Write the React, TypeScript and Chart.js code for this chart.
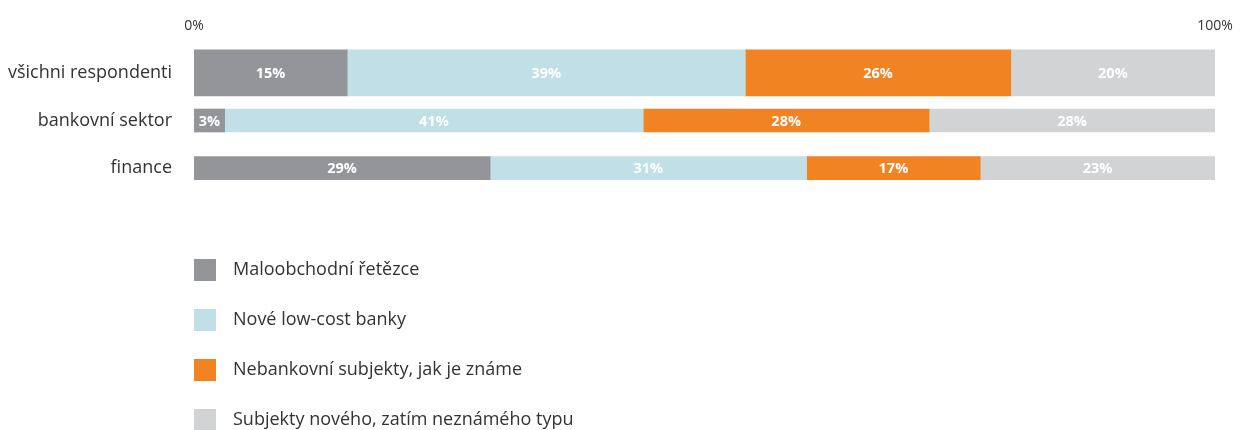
import React, { useEffect, useRef } from "react";
import { Chart, registerables } from "chart.js";

Chart.register(...registerables);

const categories = ["všichni respondenti", "bankovní sektor", "finance"];
const seriesNames = [
  "Maloobchodní řetězce",
  "Nové low-cost banky",
  "Nebankovní subjekty, jak je známe",
  "Subjekty nového, zatím neznámého typu",
];
const maloobchodni = [15, 3, 29];
const lowCost = [39, 41, 31];
const nebankovni = [26, 28, 17];
const noveSubjekty = [20, 28, 23];
const seriesColors = ["#939598", "#c0dfe7", "#f28322", "#d1d3d4"];
const xTickLabels = ["0%", "100%"];

const FONT = "'Open Sans', sans-serif";

const valueLabels = {
  id: "valueLabels",
  afterDatasetsDraw(chart: any) {
    const ctx = chart.ctx;
    ctx.save();
    ctx.fillStyle = "#ffffff";
    ctx.font = `bold 14.5px ${FONT}`;
    ctx.textAlign = "center";
    ctx.textBaseline = "middle";
    chart.data.datasets.forEach((ds: any, di: number) => {
      const meta = chart.getDatasetMeta(di);
      meta.data.forEach((el: any, i: number) => {
        const v = ds.data[i];
        if (v === null || v === undefined) return;
        const c = el.getCenterPoint();
        ctx.fillText(v + "%", c.x, c.y + 1);
      });
    });
    ctx.restore();
  },
};

const customLegend = {
  id: "customLegend",
  afterDraw(chart: any) {
    const ctx = chart.ctx;
    const left = chart.chartArea.left;
    ctx.save();
    ctx.font = `18px ${FONT}`;
    ctx.textAlign = "left";
    ctx.textBaseline = "middle";
    seriesNames.forEach((name, i) => {
      const cy = 270 + i * 50;
      ctx.fillStyle = seriesColors[i];
      ctx.fillRect(left, cy - 11, 22, 22);
      ctx.fillStyle = "#333333";
      ctx.fillText(name, left + 39, cy);
    });
    ctx.restore();
  },
};

export default function App() {
  const ref = useRef<HTMLCanvasElement>(null);
  useEffect(() => {
    const series = [maloobchodni, lowCost, nebankovni, noveSubjekty];
    const datasets: any[] = [];
    series.forEach((vals, s) => {
      datasets.push({
        label: seriesNames[s],
        data: vals.map((v, i) => (i === 0 ? v : null)),
        backgroundColor: seriesColors[s],
        barThickness: 46,
      });
    });
    series.forEach((vals, s) => {
      datasets.push({
        label: seriesNames[s] + " ",
        data: vals.map((v, i) => (i === 0 ? null : v)),
        backgroundColor: seriesColors[s],
        barThickness: 23,
      });
    });
    const chart = new Chart(ref.current!, {
      type: "bar",
      data: { labels: categories, datasets },
      options: {
        indexAxis: "y",
        animation: false,
        responsive: false,
        maintainAspectRatio: false,
        layout: { padding: { left: 0, right: 26, top: 0, bottom: 238 } },
        plugins: { legend: { display: false }, tooltip: { enabled: false } },
        scales: {
          x: {
            position: "top",
            stacked: true,
            min: 0,
            max: 100,
            grid: { display: false, drawTicks: false },
            border: { display: false },
            ticks: {
              stepSize: 100,
              padding: 15,
              color: "#333333",
              font: { family: FONT, size: 14 },
              callback: (v: any) => (v === 0 ? xTickLabels[0] : v === 100 ? xTickLabels[1] : ""),
            },
            afterFit: (s: any) => {
              s.height = 49;
              s.paddingLeft = 0;
              s.paddingRight = 0;
            },
          },
          y: {
            stacked: true,
            grid: { display: false, drawTicks: false },
            border: { display: false },
            ticks: {
              padding: 22,
              color: "#333333",
              font: { family: FONT, size: 18 },
            },
            afterFit: (s: any) => {
              s.width = 194;
            },
          },
        },
      },
      plugins: [valueLabels, customLegend],
    });
    return () => chart.destroy();
  }, []);
  return (
    <div style={{ position: "absolute", left: 0, top: 0, width: 1241, height: 430 }}>
      <canvas ref={ref} width={1241} height={430} style={{ width: 1241, height: 430 }} />
    </div>
  );
}
